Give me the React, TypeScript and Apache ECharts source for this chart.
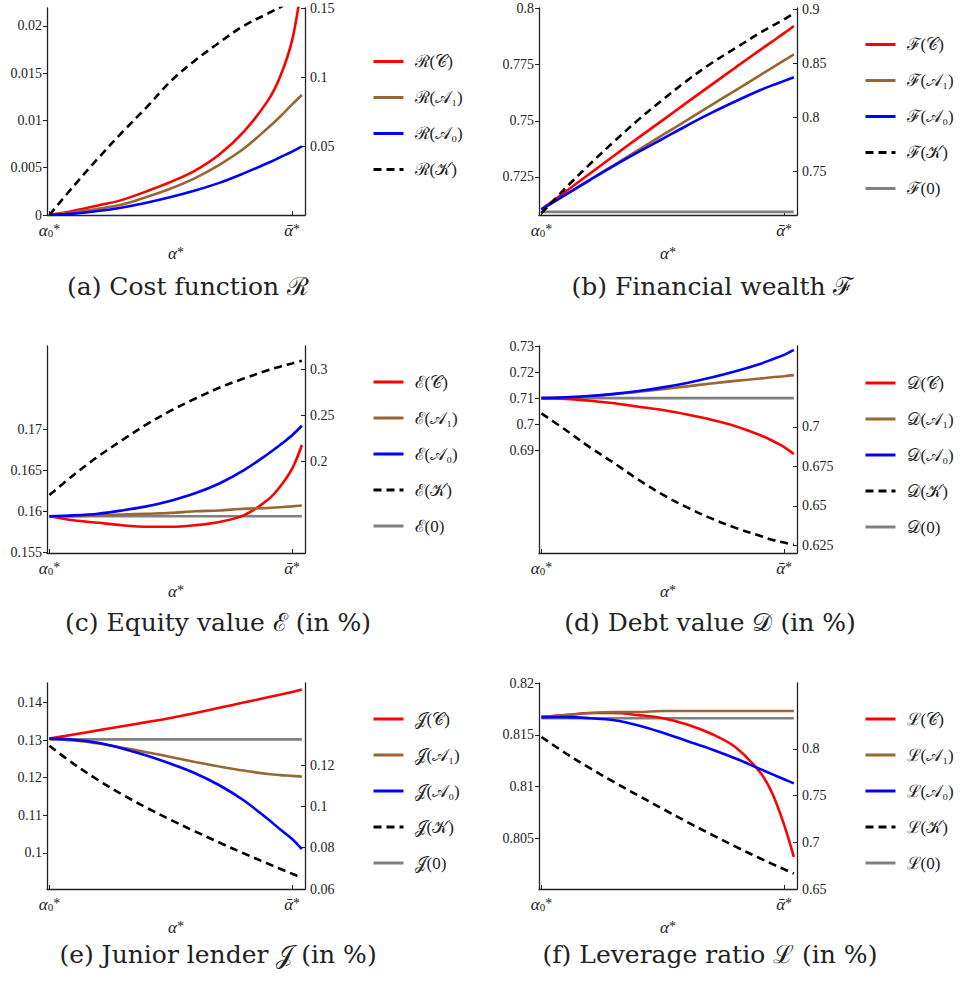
import React, { useEffect, useRef } from 'react';
import * as echarts from 'echarts';

// shared abscissa: 0 = alpha0*, 1 = alpha-bar*
const xs = [0, 0.1, 0.2, 0.3, 0.4, 0.5, 0.6, 0.7, 0.8, 0.9, 0.95, 1.0, 1.04];
const xTickValues = [0, 1];

// (a) Cost function R
const costC = [0, 0.00045, 0.001, 0.0016, 0.0025, 0.0035, 0.0047, 0.0064, 0.0088, 0.0121, 0.0146, 0.0185, 0.0245];
const costA1 = [0, 0.0003, 0.00065, 0.0011, 0.0019, 0.0028, 0.0039, 0.0053, 0.007, 0.0092, 0.0104, 0.0117, 0.0127];
const costA0 = [0, 0.00015, 0.00042, 0.0008, 0.0013, 0.0019, 0.0026, 0.0034, 0.0044, 0.0055, 0.0061, 0.0067, 0.00725];
const costK = [0, 0.021, 0.041, 0.06, 0.078, 0.097, 0.112, 0.125, 0.137, 0.146, 0.1505, 0.155, 0.158];

// (b) Financial wealth F
const wealthC = [0.7105, 0.7185, 0.7265, 0.7345, 0.7425, 0.7503, 0.7582, 0.766, 0.7738, 0.7815, 0.7853, 0.7891, 0.7923];
const wealthA1 = [0.7105, 0.7171, 0.7238, 0.7304, 0.7371, 0.7437, 0.7503, 0.757, 0.7636, 0.7703, 0.7736, 0.7769, 0.7796];
const wealthA0 = [0.7105, 0.7171, 0.7236, 0.73, 0.7361, 0.742, 0.7479, 0.7535, 0.7587, 0.7636, 0.7658, 0.7678, 0.7694];
const wealthK = [0.7116, 0.735, 0.757, 0.778, 0.798, 0.8165, 0.834, 0.85, 0.864, 0.878, 0.8845, 0.8905, 0.8963];
const wealthZero = 0.7094;

// (c) Equity value E
const equityC = [0.1594, 0.1589, 0.1586, 0.1583, 0.1581, 0.1581, 0.1583, 0.1587, 0.1595, 0.1614, 0.163, 0.1652, 0.1681];
const equityA1 = [0.1594, 0.1594, 0.1595, 0.1596, 0.1597, 0.1598, 0.16, 0.1601, 0.1603, 0.1604, 0.1605, 0.1606, 0.1607];
const equityA0 = [0.1594, 0.1595, 0.1597, 0.1601, 0.1606, 0.1613, 0.1622, 0.1634, 0.165, 0.167, 0.1681, 0.1693, 0.17045];
const equityK = [0.163, 0.185, 0.205, 0.223, 0.24, 0.255, 0.268, 0.28, 0.29, 0.299, 0.303, 0.3065, 0.3094];
const equityZero = 0.1594;

// (d) Debt value D
const debtC = [0.71, 0.7097, 0.709, 0.708, 0.7067, 0.7054, 0.7037, 0.7017, 0.6992, 0.6958, 0.6937, 0.6912, 0.6885];
const debtA1 = [0.71, 0.7103, 0.7108, 0.7115, 0.7124, 0.7134, 0.7145, 0.7156, 0.7166, 0.7175, 0.718, 0.7184, 0.7188];
const debtA0 = [0.71, 0.7103, 0.7108, 0.7116, 0.7127, 0.7141, 0.7158, 0.7179, 0.7203, 0.7231, 0.7248, 0.7266, 0.7285];
const debtK = [0.7085, 0.698, 0.687, 0.677, 0.6665, 0.657, 0.649, 0.642, 0.636, 0.631, 0.6285, 0.6267, 0.6254];
const debtZero = 0.71;

// (e) Junior lender J
const juniorC = [0.1304, 0.1315, 0.1326, 0.1337, 0.1348, 0.1359, 0.1372, 0.1386, 0.14, 0.1414, 0.1421, 0.1428, 0.1435];
const juniorA1 = [0.1304, 0.1299, 0.1291, 0.128, 0.1268, 0.1255, 0.1242, 0.123, 0.1219, 0.121, 0.1207, 0.1205, 0.1203];
const juniorA0 = [0.1304, 0.1301, 0.1293, 0.1278, 0.1259, 0.1237, 0.1212, 0.118, 0.114, 0.109, 0.1063, 0.1037, 0.101];
const juniorK = [0.1294, 0.1206, 0.1128, 0.1058, 0.0994, 0.0935, 0.0879, 0.0825, 0.0773, 0.0723, 0.0698, 0.0674, 0.0655];
const juniorZero = 0.1302;

// (f) Leverage ratio L
const leverageC = [0.8167, 0.8169, 0.8171, 0.8171, 0.8169, 0.8166, 0.816, 0.8151, 0.8138, 0.8114, 0.8094, 0.8063, 0.8032];
const leverageA1 = [0.8167, 0.8169, 0.8171, 0.8172, 0.8172, 0.8173, 0.8173, 0.8173, 0.8173, 0.8173, 0.8173, 0.8173, 0.8173];
const leverageA0 = [0.8167, 0.8167, 0.8166, 0.8164, 0.8159, 0.8152, 0.8144, 0.8136, 0.8127, 0.8117, 0.8112, 0.8107, 0.8103];
const leverageK = [0.8129, 0.7954, 0.7794, 0.7644, 0.7499, 0.7359, 0.7219, 0.7084, 0.6954, 0.6829, 0.6769, 0.6711, 0.6666];
const leverageZero = 0.8166;

// tick labels
const costLeftTicks = [0, 0.005, 0.01, 0.015, 0.02];
const costRightTicks = [0.05, 0.1, 0.15];
const wealthLeftTicks = [0.725, 0.75, 0.775, 0.8];
const wealthRightTicks = [0.75, 0.8, 0.85, 0.9];
const equityLeftTicks = [0.155, 0.16, 0.165, 0.17];
const equityRightTicks = [0.2, 0.25, 0.3];
const debtLeftTicks = [0.69, 0.7, 0.71, 0.72, 0.73];
const debtRightTicks = [0.625, 0.65, 0.675, 0.7];
const juniorLeftTicks = [0.1, 0.11, 0.12, 0.13, 0.14];
const juniorRightTicks = [0.06, 0.08, 0.1, 0.12];
const leverageLeftTicks = [0.805, 0.81, 0.815, 0.82];
const leverageRightTicks = [0.65, 0.7, 0.75, 0.8];

const F_TIMES = 'Liberation Serif';
const F_CAPTION = 'DejaVu Serif';
const INK = '#222';
const RED = '#ff0000';
const BROWN = '#996633';
const BLUE = '#0000ff';
const BLACK = '#000000';
const GRAY = '#808080';

type SeriesDef = { name: string; color: string; dashed?: boolean; right?: boolean; ys?: number[]; flat?: number };
type PanelDef = {
  caption: string;
  grid: { left: number; top: number; width: number; height: number };
  left: [number, number]; right: [number, number];
  leftTicks: number[]; rightTicks: number[];
  legend: { left: number; top: number };
  captionPos: [number, number];
  series: SeriesDef[];
};

const panels: PanelDef[] = [
  {
    caption: '(a) Cost function ℛ',
    grid: { left: 47, top: 8, width: 258, height: 207 },
    left: [0, 0.0219], right: [0, 0.15], leftTicks: costLeftTicks, rightTicks: costRightTicks,
    legend: { left: 367, top: 47.5 }, captionPos: [188, 286],
    series: [
      { name: 'ℛ(𝒞)', color: RED, ys: costC },
      { name: 'ℛ(𝒜₁)', color: BROWN, ys: costA1 },
      { name: 'ℛ(𝒜₀)', color: BLUE, ys: costA0 },
      { name: 'ℛ(𝒦)', color: BLACK, dashed: true, right: true, ys: costK },
    ],
  },
  {
    caption: '(b) Financial wealth ℱ',
    grid: { left: 539, top: 8, width: 258, height: 207 },
    left: [0.708, 0.8003], right: [0.71, 0.901], leftTicks: wealthLeftTicks, rightTicks: wealthRightTicks,
    legend: { left: 859, top: 30.5 }, captionPos: [713, 286],
    series: [
      { name: 'ℱ(𝒞)', color: RED, ys: wealthC },
      { name: 'ℱ(𝒜₁)', color: BROWN, ys: wealthA1 },
      { name: 'ℱ(𝒜₀)', color: BLUE, ys: wealthA0 },
      { name: 'ℱ(𝒦)', color: BLACK, dashed: true, right: true, ys: wealthK },
      { name: 'ℱ(0)', color: GRAY, flat: wealthZero },
    ],
  },
  {
    caption: '(c) Equity value ℰ (in %)',
    grid: { left: 47, top: 346, width: 258, height: 207 },
    left: [0.1549, 0.1802], right: [0.0999, 0.3255], leftTicks: equityLeftTicks, rightTicks: equityRightTicks,
    legend: { left: 367, top: 368 }, captionPos: [218, 622],
    series: [
      { name: 'ℰ(𝒞)', color: RED, ys: equityC },
      { name: 'ℰ(𝒜₁)', color: BROWN, ys: equityA1 },
      { name: 'ℰ(𝒜₀)', color: BLUE, ys: equityA0 },
      { name: 'ℰ(𝒦)', color: BLACK, dashed: true, right: true, ys: equityK },
      { name: 'ℰ(0)', color: GRAY, flat: equityZero },
    ],
  },
  {
    caption: '(d) Debt value 𝒟 (in %)',
    grid: { left: 539, top: 346, width: 258, height: 207 },
    left: [0.6505, 0.73], right: [0.6201, 0.7512], leftTicks: debtLeftTicks, rightTicks: debtRightTicks,
    legend: { left: 859, top: 369 }, captionPos: [710, 622],
    series: [
      { name: '𝒟(𝒞)', color: RED, ys: debtC },
      { name: '𝒟(𝒜₁)', color: BROWN, ys: debtA1 },
      { name: '𝒟(𝒜₀)', color: BLUE, ys: debtA0 },
      { name: '𝒟(𝒦)', color: BLACK, dashed: true, right: true, ys: debtK },
      { name: '𝒟(0)', color: GRAY, flat: debtZero },
    ],
  },
  {
    caption: '(e) Junior lender 𝒥 (in %)',
    grid: { left: 47, top: 683, width: 258, height: 206 },
    left: [0.0904, 0.1452], right: [0.06, 0.1598], leftTicks: juniorLeftTicks, rightTicks: juniorRightTicks,
    legend: { left: 367, top: 705 }, captionPos: [218, 954],
    series: [
      { name: '𝒥(𝒞)', color: RED, ys: juniorC },
      { name: '𝒥(𝒜₁)', color: BROWN, ys: juniorA1 },
      { name: '𝒥(𝒜₀)', color: BLUE, ys: juniorA0 },
      { name: '𝒥(𝒦)', color: BLACK, dashed: true, right: true, ys: juniorK },
      { name: '𝒥(0)', color: GRAY, flat: juniorZero },
    ],
  },
  {
    caption: '(f) Leverage ratio ℒ (in %)',
    grid: { left: 539, top: 683, width: 258, height: 206 },
    left: [0.8001, 0.82], right: [0.65, 0.8707], leftTicks: leverageLeftTicks, rightTicks: leverageRightTicks,
    legend: { left: 859, top: 705 }, captionPos: [710, 954],
    series: [
      { name: 'ℒ(𝒞)', color: RED, ys: leverageC },
      { name: 'ℒ(𝒜₁)', color: BROWN, ys: leverageA1 },
      { name: 'ℒ(𝒜₀)', color: BLUE, ys: leverageA0 },
      { name: 'ℒ(𝒦)', color: BLACK, dashed: true, right: true, ys: leverageK },
      { name: 'ℒ(0)', color: GRAY, flat: leverageZero },
    ],
  },
];

const richMath = {
  a: { fontFamily: F_TIMES, fontStyle: 'italic', fontSize: 17, color: INK, lineHeight: 16 },
  sb: { fontFamily: F_TIMES, fontSize: 11, color: INK, lineHeight: 8, verticalAlign: 'bottom' },
  sp: { fontFamily: F_TIMES, fontSize: 14, color: INK, lineHeight: 8, verticalAlign: 'top' },
};

const fmtNum = (v: number) => String(parseFloat(v.toFixed(5)));

function buildOption() {
  const grid: any[] = [];
  const xAxis: any[] = [];
  const yAxis: any[] = [];
  const series: any[] = [];
  const legend: any[] = [];
  const graphic: any[] = [];

  panels.forEach((p, i) => {
    grid.push({ ...p.grid, containLabel: false, outerBoundsMode: 'none' });
    xAxis.push({
      type: 'value', gridIndex: i, min: -0.01, max: 1.053,
      axisLine: { show: true, onZero: false, lineStyle: { color: INK, width: 1.3 } },
      axisTick: { show: true, inside: true, length: 4, customValues: xTickValues, lineStyle: { color: INK } },
      axisLabel: {
        customValues: xTickValues, margin: 7, showMinLabel: true, showMaxLabel: true,
        formatter: (v: number) => (v < 0.5 ? '{a|α}{sb|0}{sp|*}' : '{a|ᾱ}{sp|*}'),
        rich: richMath,
      },
      splitLine: { show: false },
      name: '{a|α}{sp|*}', nameLocation: 'middle', nameGap: 30,
      nameTextStyle: { rich: richMath },
    });
    const yCommon = {
      type: 'value', gridIndex: i, splitLine: { show: false },
      axisLine: { show: true, onZero: false, lineStyle: { color: INK, width: 1.3 } },
    };
    yAxis.push({
      ...yCommon, position: 'left', min: p.left[0], max: p.left[1],
      axisTick: { show: true, inside: false, length: 4, customValues: p.leftTicks, lineStyle: { color: INK } },
      axisLabel: { customValues: p.leftTicks, formatter: fmtNum, margin: 5, fontFamily: F_TIMES, fontSize: 14, lineHeight: 13, color: INK },
    });
    yAxis.push({
      ...yCommon, position: 'right', min: p.right[0], max: p.right[1],
      axisTick: { show: true, inside: true, length: 4, customValues: p.rightTicks, lineStyle: { color: INK } },
      axisLabel: { customValues: p.rightTicks, formatter: fmtNum, margin: 5, fontFamily: F_TIMES, fontSize: 14, lineHeight: 13, color: INK },
    });
    p.series.forEach((s) => {
      const data = s.ys
        ? xs.map((x, k) => [x, s.ys![k]])
        : [[xs[0], s.flat!], [xs[xs.length - 1], s.flat!]];
      series.push({
        type: 'line', name: s.name, xAxisIndex: i, yAxisIndex: 2 * i + (s.right ? 1 : 0),
        data, smooth: s.ys ? 0.35 : false, symbol: 'none', clip: true,
        lineStyle: { color: s.color, width: 2.6, type: s.dashed ? [8, 5] : 'solid', cap: 'butt' },
        itemStyle: { color: s.color },
        z: s.flat !== undefined ? 1 : 2,
      });
    });
    legend.push({
      data: p.series.map((s) => s.name), orient: 'vertical', left: p.legend.left, top: p.legend.top,
      itemWidth: 30, itemHeight: 18, itemGap: 18, selectedMode: false,
      itemStyle: { opacity: 0 },
      lineStyle: { width: 3 },
      textStyle: { fontFamily: F_TIMES, fontSize: 17, color: INK, lineHeight: 18, padding: [0, 0, 0, 6] },
    });
    graphic.push({
      type: 'text', x: p.captionPos[0], y: p.captionPos[1],
      style: {
        text: p.caption, fontFamily: F_CAPTION, fontSize: 25, fill: INK,
        align: 'center', verticalAlign: 'middle',
      },
    });
  });

  return { animation: false, backgroundColor: '#ffffff', grid, xAxis, yAxis, series, legend, graphic };
}

export default function App() {
  const ref = useRef<HTMLDivElement>(null);
  useEffect(() => {
    if (!ref.current) return;
    const chart = echarts.init(ref.current, undefined, { renderer: 'svg' });
    chart.setOption(buildOption() as any);
    return () => chart.dispose();
  }, []);
  return <div ref={ref} style={{ position: 'fixed', left: 0, top: 0, width: 963, height: 981 }} />;
}
